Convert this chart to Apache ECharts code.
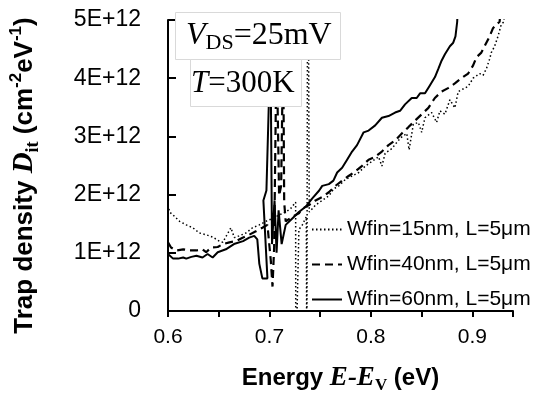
<!DOCTYPE html>
<html><head><meta charset="utf-8">
<script src="https://cdn.jsdelivr.net/npm/echarts@6/dist/echarts.min.js"></script>
<style>html,body{margin:0;padding:0;background:#fff}#c{width:544px;height:399px}</style>
</head><body><div id="c"></div>
<script>
// Values in units of 1E+12 cm^-2 eV^-1, energy in eV
const seriesNames = ['Wfin=15nm, L=5μm', 'Wfin=40nm, L=5μm', 'Wfin=60nm, L=5μm'];
const xLabelValues = [0.6, 0.7, 0.8, 0.9];

const wfin15 = [[0.600,1.82],[0.6016,1.70],[0.605,1.65],[0.6115,1.54],[0.618,1.48],[0.6245,1.43],[0.631,1.34],[0.6376,1.31],[0.644,1.27],[0.6507,1.20],[0.654,1.18],[0.662,1.43],[0.6654,1.26],[0.670,1.29],[0.6768,1.34],[0.6833,1.43],[0.690,1.48],[0.6964,1.54],[0.703,1.59],[0.7095,1.65],[0.716,1.70],[0.7209,1.76],[0.7258,1.87],[0.7259,-1],[0.729,1.40],[0.7324,1.48],[0.7363,1.62],[0.7368,-1],[0.7378,8],[0.7392,1.70],[0.7454,1.82],[0.752,1.90],[0.7585,1.98],[0.7634,2.10],[0.7683,2.15],[0.7748,2.26],[0.7814,2.32],[0.788,2.38],[0.7944,2.49],[0.801,2.57],[0.8075,2.65],[0.8108,2.49],[0.814,2.71],[0.8206,2.79],[0.827,2.93],[0.8304,2.99],[0.8353,3.05],[0.8376,2.77],[0.8418,3.21],[0.8467,3.24],[0.85,3.07],[0.8532,3.32],[0.8598,3.41],[0.8647,3.24],[0.868,3.44],[0.8729,3.38],[0.8778,3.63],[0.8827,3.49],[0.886,3.77],[0.8925,3.83],[0.8958,3.86],[0.9007,4.00],[0.9072,4.08],[0.9105,4.05],[0.9137,4.16],[0.917,4.33],[0.9186,4.44],[0.9219,4.55],[0.9252,4.72],[0.9284,4.92],[0.931,4.97],[0.932,5.2]];

const wfin40 = [[0.600,1.18],[0.603,1.09],[0.608,1.04],[0.615,1.06],[0.621,1.04],[0.628,1.04],[0.634,1.06],[0.6376,1.01],[0.6425,1.09],[0.649,1.10],[0.654,1.15],[0.6605,1.18],[0.667,1.20],[0.6735,1.26],[0.680,1.31],[0.6866,1.37],[0.693,1.43],[0.698,1.48],[0.7013,0.87],[0.703,0.42],[0.7046,1.09],[0.707,4.6],[0.7095,1.98],[0.7115,2.15],[0.7135,4.6],[0.7145,1.87],[0.716,1.54],[0.7225,1.62],[0.729,1.68],[0.7324,1.76],[0.739,1.82],[0.7454,1.90],[0.752,1.96],[0.7585,2.04],[0.765,2.15],[0.7716,2.24],[0.778,2.32],[0.7846,2.40],[0.791,2.49],[0.7977,2.60],[0.8042,2.65],[0.8108,2.74],[0.8173,2.85],[0.8238,2.93],[0.8304,3.05],[0.837,3.16],[0.8434,3.27],[0.85,3.38],[0.8566,3.49],[0.863,3.66],[0.8696,3.77],[0.876,3.83],[0.8827,3.91],[0.8892,4.00],[0.8958,4.08],[0.9007,4.22],[0.904,4.36],[0.9088,4.44],[0.912,4.55],[0.917,4.72],[0.9203,4.86],[0.9235,4.92],[0.9268,4.97],[0.928,5.2]];

const wfin60 = [[0.600,0.98],[0.605,0.90],[0.610,0.90],[0.615,0.92],[0.618,0.90],[0.623,0.93],[0.628,0.95],[0.634,0.92],[0.639,0.98],[0.644,0.92],[0.649,1.01],[0.657,1.06],[0.665,1.15],[0.674,1.20],[0.680,1.26],[0.685,1.29],[0.688,1.23],[0.690,0.81],[0.693,0.56],[0.698,0.56],[0.694,1.90],[0.697,2.07],[0.701,4.6],[0.7025,1.15],[0.705,1.90],[0.707,1.0],[0.709,1.73],[0.712,1.15],[0.716,1.48],[0.7225,1.59],[0.729,1.70],[0.7356,1.79],[0.742,1.93],[0.749,2.07],[0.752,2.15],[0.7585,2.18],[0.763,2.24],[0.7667,2.38],[0.7716,2.46],[0.7765,2.60],[0.7814,2.74],[0.7863,2.85],[0.7928,3.07],[0.7977,3.10],[0.8042,3.19],[0.8108,3.32],[0.8173,3.35],[0.8238,3.41],[0.8287,3.44],[0.8336,3.55],[0.8402,3.66],[0.8451,3.66],[0.8484,3.74],[0.8533,3.74],[0.8582,3.88],[0.8631,4.02],[0.8664,4.16],[0.8696,4.30],[0.8729,4.41],[0.8778,4.55],[0.8811,4.61],[0.8833,4.72],[0.885,4.97],[0.8855,5.2]];

const SANS = 'Liberation Sans', SERIF = 'Liberation Serif';
const chart = echarts.init(document.getElementById('c'), null, {renderer: 'canvas'});

const lineBase = (name, data, type, width) => ({
  name, type: 'line', data, symbol: 'none', showSymbol: false, animation: false,
  lineStyle: {color: '#000', width, type}, itemStyle: {color: '#000'}, z: 3
});

chart.setOption({
  animation: false,
  backgroundColor: '#fff',
  grid: {left: 165, right: 31, top: 20, bottom: 80.5},
  xAxis: {
    type: 'value', min: 0.6, max: 0.94, interval: 0.05,
    axisLine: {show: true, lineStyle: {color: '#000', width: 2}},
    axisTick: {show: true, inside: false, length: 6, lineStyle: {color: '#000', width: 2}},
    splitLine: {show: false},
    axisLabel: {
      fontSize: 21, fontFamily: SANS, color: '#000', margin: 16,
      formatter: v => { const m = xLabelValues.find(t => Math.abs(t - v) < 1e-6); return m === undefined ? '' : m.toFixed(1); }
    },
    name: '{b|Energy }{i|E-E}{sub|V}{b| (eV)}',
    nameLocation: 'middle', nameGap: 51,
    nameTextStyle: {
      rich: {
        b: {fontFamily: SANS, fontWeight: 'bold', fontSize: 24, lineHeight: 32, color: '#000', verticalAlign: 'middle'},
        i: {fontFamily: SERIF, fontWeight: 'bold', fontStyle: 'italic', fontSize: 27, lineHeight: 32, color: '#000', verticalAlign: 'middle'},
        sub: {fontFamily: SERIF, fontWeight: 'bold', fontSize: 17, lineHeight: 14, color: '#000', verticalAlign: 'bottom'}
      }
    }
  },
  yAxis: {
    type: 'value', min: 0, max: 5, interval: 1,
    axisLine: {show: true, lineStyle: {color: '#000', width: 2}},
    axisTick: {show: true, inside: true, length: 8, lineStyle: {color: '#000', width: 2}},
    splitLine: {show: false},
    axisLabel: {
      fontSize: 23, fontFamily: SANS, color: '#000', margin: 27,
      formatter: v => v === 0 ? '0' : v + 'E+12'
    },
    name: '{b|Trap density }{i|D}{sub|it}{b| (cm}{sup|-2}{b|eV}{sup|-1}{b|)}',
    nameLocation: 'middle', nameGap: 126,
    nameTextStyle: {
      padding: [0, 20, 0, 0],
      rich: {
        b: {fontFamily: SANS, fontWeight: 'bold', fontSize: 26, lineHeight: 34, color: '#000', verticalAlign: 'middle'},
        i: {fontFamily: SERIF, fontWeight: 'bold', fontStyle: 'italic', fontSize: 29, lineHeight: 34, color: '#000', verticalAlign: 'middle'},
        sub: {fontFamily: SERIF, fontWeight: 'bold', fontSize: 18, lineHeight: 14, color: '#000', verticalAlign: 'bottom'},
        sup: {fontFamily: SANS, fontWeight: 'bold', fontSize: 17, lineHeight: 13, color: '#000', verticalAlign: 'top'}
      }
    }
  },
  legend: {
    orient: 'vertical', left: 311, top: 219, padding: 0, itemWidth: 30, itemHeight: 14, itemGap: 14,
    data: seriesNames,
    itemStyle: {opacity: 0, borderWidth: 0},
    textStyle: {fontSize: 21, fontFamily: SANS, color: '#000', lineHeight: 21},
    selectedMode: false
  },
  series: [
    lineBase(seriesNames[0], wfin15, [1.5, 2.5], 1.5),
    lineBase(seriesNames[1], wfin40, [8, 5], 2.2),
    lineBase(seriesNames[2], wfin60, 'solid', 2)
  ],
  graphic: [
    {type: 'rect', z: 100, shape: {x: 175.5, y: 12.5, width: 165, height: 47}, style: {fill: '#fff', stroke: '#d9d9d9', lineWidth: 1}},
    {type: 'rect', z: 100, shape: {x: 190.5, y: 59.5, width: 111, height: 47}, style: {fill: '#fff', stroke: '#d9d9d9', lineWidth: 1}},
    {type: 'text', z: 101, x: 186, y: 36, style: {
      text: '{i|V}{s|DS}{n|=25mV}', verticalAlign: 'middle', align: 'left',
      rich: {
        i: {fontFamily: SERIF, fontStyle: 'italic', fontSize: 32, lineHeight: 36, fill: '#000', verticalAlign: 'middle'},
        s: {fontFamily: SERIF, fontSize: 22, lineHeight: 14, fill: '#000', verticalAlign: 'bottom'},
        n: {fontFamily: SERIF, fontSize: 32, lineHeight: 36, fill: '#000', verticalAlign: 'middle'}
      }
    }},
    {type: 'text', z: 101, x: 191, y: 84, style: {
      text: '{i|T}{n|=300K}', verticalAlign: 'middle', align: 'left',
      rich: {
        i: {fontFamily: SERIF, fontStyle: 'italic', fontSize: 31, lineHeight: 36, fill: '#000', verticalAlign: 'middle'},
        n: {fontFamily: SERIF, fontSize: 31, lineHeight: 36, fill: '#000', verticalAlign: 'middle'}
      }
    }}
  ]
});
</script>
</body></html>
